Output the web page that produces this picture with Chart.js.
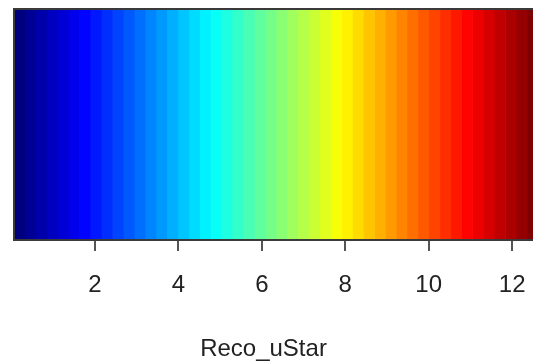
<!DOCTYPE html>
<html>
<head>
<meta charset="utf-8">
<script src="https://cdn.jsdelivr.net/npm/chart.js@4.4.1/dist/chart.umd.min.js"></script>
<style>
  html, body { margin: 0; padding: 0; background: #fff; overflow: hidden; }
  canvas { display: block; }
</style>
</head>
<body>
<canvas id="c" width="533" height="361"></canvas>
<script>
// Band break values along Reco_uStar (equally spaced colour classes)
const breaks = [0.06, 0.32, 0.58, 0.85, 1.11, 1.37, 1.63, 1.89, 2.15, 2.42, 2.68, 2.94,
  3.20, 3.46, 3.72, 3.99, 4.25, 4.51, 4.77, 5.03, 5.29, 5.56, 5.82, 6.08, 6.34, 6.60,
  6.86, 7.13, 7.39, 7.65, 7.91, 8.17, 8.43, 8.70, 8.96, 9.22, 9.48, 9.74, 10.00, 10.27,
  10.53, 10.79, 11.05, 11.31, 11.57, 11.84, 12.10, 12.36, 12.62];
const tickValues = [2, 4, 6, 8, 10, 12];
const axisTitle = 'Reco_uStar';
const category = ['Reco_uStar'];

// jet palette stops (style)
const jetStops = ['#00007F', '#0000FF', '#007FFF', '#00FFFF', '#7FFF7F', '#FFFF00', '#FF7F00', '#FF0000', '#7F0000'];
function hexToRgb(h){ return [parseInt(h.slice(1,3),16), parseInt(h.slice(3,5),16), parseInt(h.slice(5,7),16)]; }
function jet(t){
  const n = jetStops.length - 1;
  const p = Math.min(Math.max(t,0),1) * n;
  const i = Math.min(Math.floor(p), n - 1);
  const f = p - i;
  const a = hexToRgb(jetStops[i]), b = hexToRgb(jetStops[i+1]);
  const c = a.map((v,k) => Math.round(v + (b[k]-v)*f));
  return 'rgb(' + c.join(',') + ')';
}

const nb = breaks.length - 1;
const datasets = [];
for (let i = 0; i < nb; i++) {
  datasets.push({
    data: [[breaks[i], breaks[i+1]]],
    backgroundColor: jet(i / (nb - 1)),
    borderWidth: 0,
    barPercentage: 1,
    categoryPercentage: 1,
    grouped: false
  });
}

const frame = {
  id: 'frame',
  afterDatasetsDraw(chart) {
    const {ctx, chartArea: a} = chart;
    ctx.save();
    ctx.strokeStyle = '#3a3a3a';
    ctx.lineWidth = 2;
    ctx.beginPath();
    ctx.moveTo(a.right + 5, a.top);
    ctx.lineTo(a.left, a.top);
    ctx.lineTo(a.left, a.bottom);
    ctx.lineTo(a.right + 5, a.bottom);
    ctx.stroke();
    ctx.restore();
  }
};

new Chart(document.getElementById('c'), {
  type: 'bar',
  data: { labels: category, datasets },
  options: {
    indexAxis: 'y',
    responsive: false,
    animation: false,
    devicePixelRatio: 1,
    layout: { padding: { left: 14, top: 9, right: 0, bottom: 0 } },
    plugins: { legend: { display: false }, tooltip: { enabled: false } },
    scales: {
      y: { display: false },
      x: {
        type: 'linear',
        min: 0.058,
        max: 12.5,
        afterBuildTicks(axis) { axis.ticks = tickValues.map(v => ({ value: v })); },
        afterFit(axis) { axis.height = 121; axis.paddingRight = 0; axis.paddingLeft = 0; },
        border: { display: false },
        grid: { display: true, drawOnChartArea: false, drawTicks: true, tickLength: 11, color: '#555', lineWidth: 2 },
        ticks: { color: '#222', font: { family: 'Liberation Sans', size: 24 }, padding: 20, maxRotation: 0, autoSkip: false },
        title: { display: true, text: axisTitle + '\u00a0\u00a0\u00a0', color: '#222', font: { family: 'Liberation Sans', size: 24 }, padding: { top: 0, bottom: -3 } }
      }
    }
  },
  plugins: [frame]
});
</script>
</body>
</html>
